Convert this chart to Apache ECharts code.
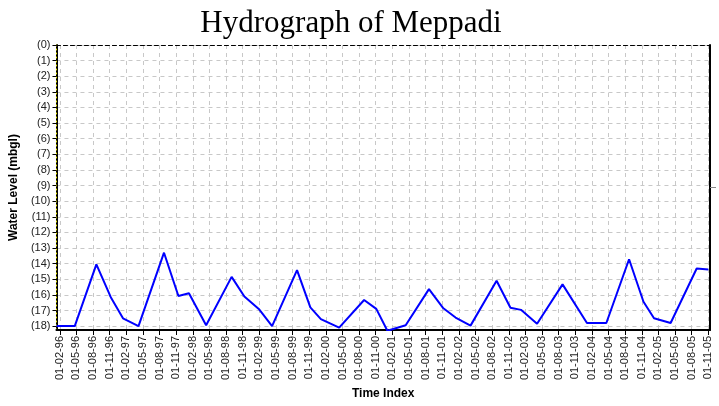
<!DOCTYPE html>
<html>
<head>
<meta charset="utf-8">
<script src="https://cdn.jsdelivr.net/npm/echarts@6/dist/echarts.min.js"></script>
<style>
html, body { margin: 0; padding: 0; background: #fff; }
#chart { width: 719px; height: 406px; }
</style>
</head>
<body>
<div id="chart"></div>
<script>
// observation dates and water level (m below ground level)
const obsDates = [
    '1996-01-13', '1996-04-22', '1996-08-19', '1996-11-07',
    '1997-01-13', '1997-04-07', '1997-08-25', '1997-11-13',
    '1998-01-10', '1998-04-13', '1998-09-01', '1998-11-10',
    '1999-01-28', '1999-04-10', '1999-08-25', '1999-11-07',
    '2000-01-04', '2000-04-13', '2000-08-28', '2000-11-04',
    '2001-01-04', '2001-04-13', '2001-08-19', '2001-11-07',
    '2002-01-13', '2002-04-04', '2002-08-25', '2002-11-10',
    '2003-01-07', '2003-04-04', '2003-08-22',
    '2004-01-04', '2004-04-19', '2004-08-22', '2004-11-10',
    '2005-01-07', '2005-04-07', '2005-08-28', '2005-11-01'
];
const waterLevel = [
    18.0, 18.0, 14.05, 16.15,
    17.5, 18.0, 13.3, 16.07,
    15.9, 17.95, 14.85, 16.1,
    16.9, 18.0, 14.42, 16.8,
    17.55, 18.1, 16.33, 16.9,
    18.3, 17.95, 15.63, 16.86,
    17.45, 17.97, 15.1, 16.82,
    16.96, 17.85, 15.33,
    17.8, 17.8, 13.72, 16.44,
    17.5, 17.8, 14.31, 14.37
];
// x axis tick labels (dd-mm-yy), every 3 months
const tickLabels = [
    '01-02-96', '01-05-96', '01-08-96', '01-11-96',
    '01-02-97', '01-05-97', '01-08-97', '01-11-97',
    '01-02-98', '01-05-98', '01-08-98', '01-11-98',
    '01-02-99', '01-05-99', '01-08-99', '01-11-99',
    '01-02-00', '01-05-00', '01-08-00', '01-11-00',
    '01-02-01', '01-05-01', '01-08-01', '01-11-01',
    '01-02-02', '01-05-02', '01-08-02', '01-11-02',
    '01-02-03', '01-05-03', '01-08-03', '01-11-03',
    '01-02-04', '01-05-04', '01-08-04', '01-11-04',
    '01-02-05', '01-05-05', '01-08-05', '01-11-05'
];
const levelTicks = [0, 1, 2, 3, 4, 5, 6, 7, 8, 9, 10, 11, 12, 13, 14, 15, 16, 17, 18];

// months counted from 1 Jan 1996
function monthIndex(y, m, d) {
    return (y - 1996) * 12 + (m - 1) + (d - 1) / 30;
}
const obsX = obsDates.map(s => {
    const p = s.split('-').map(Number);
    return monthIndex(p[0], p[1], p[2]);
});
const tickX = tickLabels.map(s => {
    const p = s.split('-').map(Number);
    return monthIndex(2000 + p[2] - (p[2] > 50 ? 100 : 0), p[1], p[0]);
});

const xMin = 0.4, xMax = 118.3;
const txt = { fontFamily: 'Liberation Sans, Arial, sans-serif', color: '#222' };

const chart = echarts.init(document.getElementById('chart'));
chart.setOption({
    animation: false,
    title: {
        text: 'Hydrograph of Meppadi',
        left: 346, top: 3, textAlign: 'center',
        textStyle: { fontFamily: 'Liberation Serif, Times New Roman, serif', fontSize: 31, fontWeight: 'normal', color: '#000' }
    },
    grid: { left: 55, right: 9, top: 45, bottom: 76, show: false },
    xAxis: [{
        type: 'value', min: xMin, max: xMax,
        name: 'Time Index', nameLocation: 'middle', nameGap: 58,
        nameTextStyle: Object.assign({}, txt, { fontSize: 12, fontWeight: 'bold', color: '#000' }),
        axisLine: { onZero: false, lineStyle: { color: '#000', width: 2 } },
        axisTick: { customValues: tickX, length: 5, lineStyle: { color: '#000' } },
        axisLabel: Object.assign({}, txt, {
            customValues: tickX, rotate: 90, fontSize: 11, margin: 6,
            formatter: v => tickLabels[tickX.indexOf(v)] || ''
        }),
        splitLine: { show: true, lineStyle: { color: '#c8c8c8', type: [4, 4] } }
    }, {
        type: 'value', min: xMin, max: xMax, position: 'top',
        axisLine: { onZero: false, lineStyle: { color: '#000', type: [4, 3] } },
        axisTick: { show: false }, axisLabel: { show: false }, splitLine: { show: false }
    }],
    yAxis: [{
        type: 'value', inverse: true, min: 0, max: 18.25,
        name: 'Water Level (mbgl)', nameLocation: 'middle', nameGap: 31, nameRotate: 90,
        nameTextStyle: Object.assign({}, txt, { fontSize: 12, fontWeight: 'bold', color: '#000' }),
        axisLine: { onZero: false, lineStyle: { color: '#000', width: 2 } },
        axisTick: { customValues: levelTicks, length: 4, lineStyle: { color: '#000' } },
        axisLabel: Object.assign({}, txt, {
            customValues: levelTicks, fontSize: 11, margin: 6,
            formatter: v => '(' + v + ')'
        }),
        splitLine: { show: true, lineStyle: { color: '#c8c8c8', type: [4, 4] } }
    }, {
        type: 'value', inverse: true, min: 0, max: 18.25, position: 'left',
        axisLine: { onZero: false, lineStyle: { color: '#e6e600', width: 1, type: [1, 3] } },
        axisTick: { show: false }, axisLabel: { show: false }, splitLine: { show: false }
    }, {
        type: 'value', inverse: true, min: 0, max: 18.25, position: 'right',
        axisLine: { onZero: false, lineStyle: { color: '#000', width: 2 } },
        axisTick: { customValues: [9.1], length: 6, lineStyle: { color: '#888' } },
        axisLabel: { show: false }, splitLine: { show: false }
    }],
    series: [{
        type: 'line',
        data: obsX.map((x, i) => [x, waterLevel[i]]),
        showSymbol: false,
        clip: true,
        lineStyle: { color: '#0000ff', width: 2 },
        itemStyle: { color: '#0000ff' }
    }]
});
</script>
</body>
</html>
